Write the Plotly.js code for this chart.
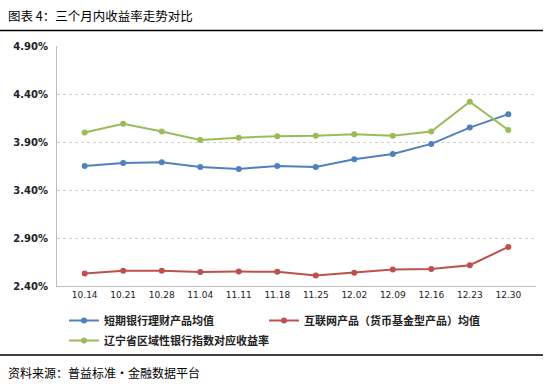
<!DOCTYPE html>
<html>
<head>
<meta charset="utf-8">
<script src="https://cdn.plot.ly/plotly-3.0.1.min.js"></script>
<style>html,body{margin:0;padding:0;background:#fff;}#chart{width:553px;height:387px;}</style>
</head>
<body>
<div id="chart"></div>
<script>
var categories = ["10.14","10.21","10.28","11.04","11.11","11.18","11.25","12.02","12.09","12.16","12.23","12.30"];
var bankShortTerm = [3.65, 3.68, 3.69, 3.64, 3.62, 3.65, 3.64, 3.72, 3.775, 3.88, 4.05, 4.19];
var internetMoneyFund = [2.53, 2.56, 2.56, 2.545, 2.55, 2.548, 2.51, 2.538, 2.572, 2.576, 2.617, 2.807];
var liaoningIndex = [4.00, 4.09, 4.01, 3.92, 3.945, 3.96, 3.965, 3.98, 3.965, 4.01, 4.32, 4.025];
var seriesNames = ["短期银行理财产品均值", "互联网产品（货币基金型产品）均值", "辽宁省区域性银行指数对应收益率"];
var yTicks = [2.40, 2.90, 3.40, 3.90, 4.40, 4.90];

var W = 553, H = 387, ML = 57, MR = 17, MT = 46, MB = 101;
var PW = W - ML - MR, PH = H - MT - MB;
function px(x){ return (x - ML) / PW; }
function py(y){ return (H - MB - y) / PH; }

var cjk = '"Noto Sans CJK SC", "Noto Sans", sans-serif';
function mk(name, y, color, leg){
  return {type:'scatter', mode:'lines+markers', name:name, x:categories, y:y, legend:leg,
    line:{color:color, width:2}, marker:{color:color, size:6}};
}
var data = [
  mk(seriesNames[0], bankShortTerm, '#4F81BD', 'legend'),
  mk(seriesNames[1], internetMoneyFund, '#C0504D', 'legend2'),
  mk(seriesNames[2], liaoningIndex, '#9BBB59', 'legend3')
];
var legFont = {family:cjk, size:11, color:'#222', weight:'bold'};
function leg(x, y){
  return {orientation:'h', xref:'container', yref:'container', x:x/W, y:1 - y/H, xanchor:'left', yanchor:'top',
    font:legFont, itemwidth:30, bgcolor:'rgba(0,0,0,0)'};
}
var layout = {
  width:W, height:H, margin:{l:ML, r:MR, t:MT, b:MB},
  paper_bgcolor:'#fff', plot_bgcolor:'#fff',
  font:{family:cjk, color:'#222'},
  showlegend:true,
  legend:leg(64, 306),
  legend2:leg(264, 306),
  legend3:leg(64, 326),
  xaxis:{type:'category', showgrid:false, showline:true, linecolor:'#BFBFBF', linewidth:1,
    ticks:'', tickfont:{family:'"DejaVu Sans", sans-serif', size:9, color:'#222'}, fixedrange:true},
  yaxis:{range:[2.40, 4.90], tickvals:yTicks, ticktext:yTicks.map(function(v){return v.toFixed(2)+'%';}),
    showgrid:true, gridcolor:'#D0D0D0', griddash:'dot', gridwidth:1,
    showline:true, linecolor:'#BFBFBF', linewidth:1, zeroline:false, ticks:'',
    tickfont:{family:'"DejaVu Sans", sans-serif', size:10, color:'#222', weight:'bold'}, ticklabelstandoff:6},
  shapes:[
    {type:'line', xref:'paper', yref:'paper', x0:px(0), x1:px(543), y0:py(30.5), y1:py(30.5), line:{color:'#000', width:1.5}},
    {type:'line', xref:'paper', yref:'paper', x0:px(0), x1:px(543), y0:py(355), y1:py(355), line:{color:'#000', width:1.5}}
  ],
  annotations:[
    {text:'图表 4：三个月内收益率走势对比', xref:'paper', yref:'paper', x:px(6), y:py(15), xanchor:'left', yanchor:'middle',
      showarrow:false, font:{family:cjk, size:12.5, color:'#000'}},
    {text:'资料来源：普益标准·金融数据平台', xref:'paper', yref:'paper', x:px(6), y:py(372), xanchor:'left', yanchor:'middle',
      showarrow:false, font:{family:cjk, size:12, color:'#000'}}
  ]
};
Plotly.newPlot('chart', data, layout, {displayModeBar:false, staticPlot:true});
</script>
</body>
</html>
